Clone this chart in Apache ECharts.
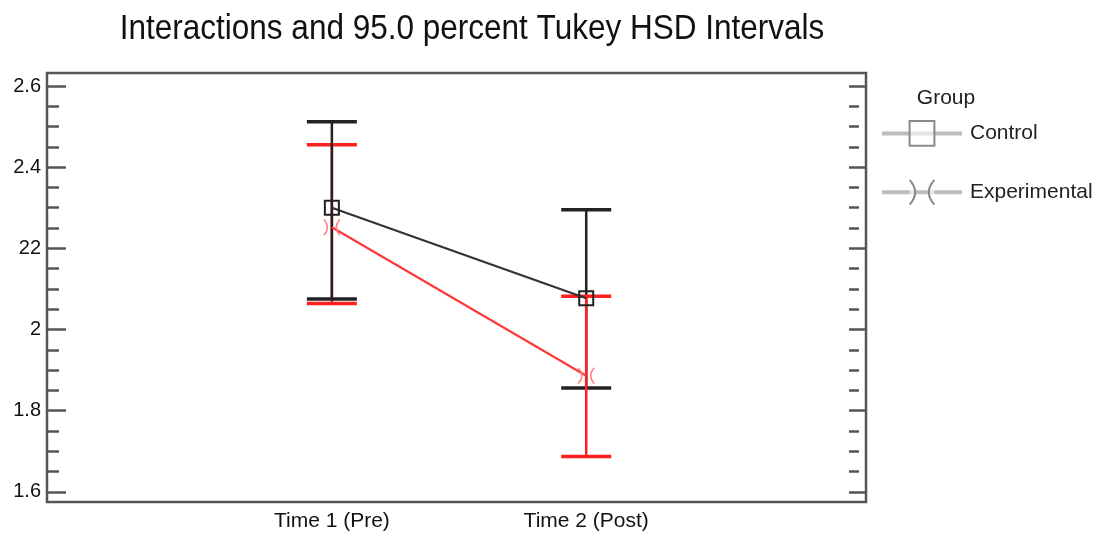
<!DOCTYPE html>
<html>
<head>
<meta charset="utf-8">
<script src="https://cdn.jsdelivr.net/npm/echarts@6/dist/echarts.min.js"></script>
<style>
  html, body { margin: 0; padding: 0; background: #fff; }
  #chart { width: 1098px; height: 536px; }
</style>
</head>
<body>
<div id="chart"></div>
<script>
// ---- data ----
const categories = ['Time 1 (Pre)', 'Time 2 (Post)'];
const categoryPos = [1, 2];
const groups = ['Control', 'Experimental'];
const controlMean = [2.300, 2.077];
const controlLow  = [2.075, 1.856];
const controlHigh = [2.512, 2.295];
const expMean = [2.252, 1.886];
const expLow  = [2.064, 1.687];
const expHigh = [2.455, 2.082];
const yTickValues = [1.6, 1.8, 2.0, 2.2, 2.4, 2.6];
const yTickLabels = ['1.6', '1.8', '2', '22', '2.4', '2.6'];
const yMinorValues = [1.65, 1.7, 1.75, 1.85, 1.9, 1.95, 2.05, 2.1, 2.15, 2.25, 2.3, 2.35, 2.45, 2.5, 2.55];
const titleText = 'Interactions and 95.0 percent Tukey HSD Intervals';
const legendTitle = 'Group';

// ---- styling ----
const FONT = "'Liberation Sans', Arial, sans-serif";
const BLACK = '#222222';
const RED = '#ff1f1f';
const Y_MIN = 1.575, Y_MAX = 2.632;
const X_MIN = -0.12, X_MAX = 3.1;
const GRID_RECT = { left: 47, top: 73, right: 232, bottom: 34 };

const chart = echarts.init(document.getElementById('chart'), null, { renderer: 'canvas' });

function meanData(means) { return categoryPos.map((x, i) => [x, means[i]]); }
function barData(lows, highs) { return categoryPos.map((x, i) => [x, lows[i], highs[i]]); }

function errorRenderer(color, topAt) {
  return function (params, api) {
    const x = api.value(0);
    const pLo = api.coord([x, api.value(1)]);
    const pHi = api.coord([x, api.value(2)]);
    const hw = 25;
    const z2 = params.dataIndex === topAt ? 20 : 10;
    return {
      type: 'group',
      children: [
        { type: 'line', z2: z2, shape: { x1: pHi[0], y1: pHi[1], x2: pLo[0], y2: pLo[1] },
          style: { stroke: color, lineWidth: 2.5 } },
        { type: 'line', z2: z2, shape: { x1: pHi[0] - hw, y1: pHi[1], x2: pHi[0] + hw, y2: pHi[1] },
          style: { stroke: color, lineWidth: 3.5 } },
        { type: 'line', z2: z2, shape: { x1: pLo[0] - hw, y1: pLo[1], x2: pLo[0] + hw, y2: pLo[1] },
          style: { stroke: color, lineWidth: 3.5 } }
      ]
    };
  };
}

const crossPath = 'path://M0,0 Q9,10 0,20 M20,0 Q11,10 20,20';

function yAxisDef(gridIndex, position, values, len, offset, withLabels) {
  return {
    type: 'value', gridIndex: gridIndex, position: position, offset: offset,
    min: Y_MIN, max: Y_MAX,
    axisLine: { show: false, onZero: false },
    splitLine: { show: false },
    axisTick: { show: true, inside: true, length: len, customValues: values,
      lineStyle: { color: '#555', width: 2.5 } },
    axisLabel: withLabels ? {
      show: true, customValues: yTickValues, margin: 6,
      fontFamily: FONT, fontSize: 20, color: '#111',
      formatter: function (v) {
        const i = yTickValues.findIndex(t => Math.abs(t - v) < 1e-6);
        return i >= 0 ? yTickLabels[i] : '';
      }
    } : { show: false }
  };
}

function xAxisDef(gridIndex, withLabels) {
  return {
    type: 'value', gridIndex: gridIndex, min: X_MIN, max: X_MAX,
    axisLine: { show: false, onZero: false }, axisTick: { show: false }, splitLine: { show: false },
    axisLabel: withLabels ? {
      customValues: categoryPos, margin: 9,
      fontFamily: FONT, fontSize: 21, color: '#111',
      formatter: function (v) {
        const i = categoryPos.indexOf(v);
        return i >= 0 ? categories[i] : '';
      }
    } : { show: false }
  };
}

const option = {
  animation: false,
  backgroundColor: '#fff',
  grid: [
    Object.assign({ show: true, borderColor: '#555', borderWidth: 2.5, backgroundColor: '#fff' }, GRID_RECT),
    Object.assign({ show: false }, GRID_RECT)
  ],
  xAxis: [xAxisDef(0, true), xAxisDef(1, false)],
  yAxis: [
    yAxisDef(0, 'left', yTickValues, 19, 0, true),
    yAxisDef(0, 'right', yTickValues, 17, 0, false),
    yAxisDef(1, 'left', yMinorValues, 12, 0, false),
    yAxisDef(1, 'right', yMinorValues, 10, -7, false)
  ],
  legend: {
    orient: 'vertical', left: 880, top: 120, padding: 0,
    itemWidth: 80, itemHeight: 31, itemGap: 32,
    data: groups,
    textStyle: { fontFamily: FONT, fontSize: 21, color: '#222', padding: [0, 0, 0, 3] },
    lineStyle: { color: '#bdbdbd', width: 4 },
    itemStyle: { color: 'rgba(255,255,255,0.6)', borderColor: '#8a8a8a', borderWidth: 2 }
  },
  graphic: [
    { type: 'text', x: 472, y: 29, scaleX: 0.9,
      style: { text: titleText, align: 'center', verticalAlign: 'middle',
               fontFamily: FONT, fontSize: 35, fill: '#111' } },
    { type: 'text', x: 946, y: 98,
      style: { text: legendTitle, align: 'center', verticalAlign: 'middle',
               fontFamily: FONT, fontSize: 21, fill: '#222' } }
  ],
  series: [
    {
      name: 'Control-err', type: 'custom', z: 2,
      xAxisIndex: 0, yAxisIndex: 0,
      data: barData(controlLow, controlHigh),
      renderItem: errorRenderer(BLACK, 0),
      encode: { x: 0, y: [1, 2] }, silent: true
    },
    {
      name: 'Experimental-err', type: 'custom', z: 2,
      xAxisIndex: 0, yAxisIndex: 0,
      data: barData(expLow, expHigh),
      renderItem: errorRenderer(RED, 1),
      encode: { x: 0, y: [1, 2] }, silent: true
    },
    {
      name: 'Control', type: 'line', z: 3,
      xAxisIndex: 0, yAxisIndex: 0,
      data: meanData(controlMean),
      symbol: 'rect', symbolSize: 14,
      lineStyle: { color: '#333', width: 2.2 },
      itemStyle: { color: 'transparent', borderColor: '#222', borderWidth: 2 }
    },
    {
      name: 'Experimental', type: 'line', z: 3,
      xAxisIndex: 0, yAxisIndex: 0,
      data: meanData(expMean),
      symbol: crossPath, symbolSize: 16,
      lineStyle: { color: '#ff3a3a', width: 2.2 },
      itemStyle: { color: 'transparent', borderColor: '#ff8080', borderWidth: 1.5 }
    }
  ]
};

chart.setOption(option);
</script>
</body>
</html>
